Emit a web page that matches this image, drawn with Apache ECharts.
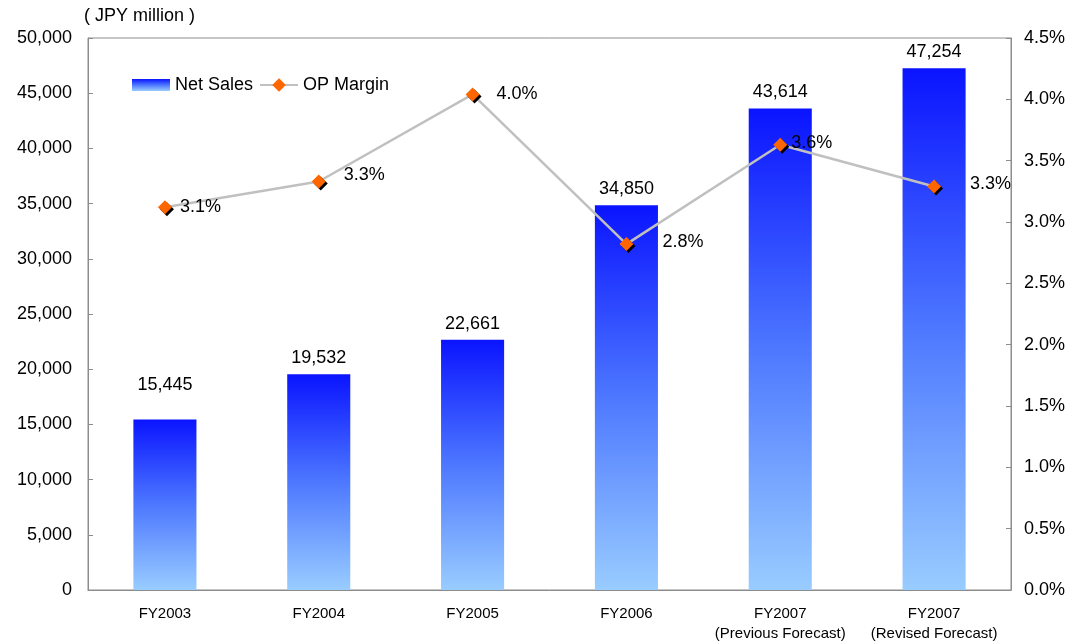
<!DOCTYPE html>
<html><head><meta charset="utf-8">
<script src="https://cdn.jsdelivr.net/npm/echarts@6/dist/echarts.min.js"></script>
<style>html,body{margin:0;padding:0;background:#fff}#c{width:1073px;height:644px}</style>
</head><body><div id="c"></div>
<script>
const categories = ['FY2003','FY2004','FY2005','FY2006','FY2007\n(Previous Forecast)','FY2007\n(Revised Forecast)'];
const netSales = [15445, 19532, 22661, 34850, 43614, 47254];
const opMargin = [3.12, 3.33, 4.04, 2.82, 3.63, 3.29];
const leftTicks = {min: 0, max: 50000, interval: 5000};
const rightTicks = {min: 0, max: 4.5, interval: 0.5};

const FONT = '"Liberation Sans", Arial, sans-serif';
const labelOffsets = [[0,0],[10,-6],[9,0],[21,-2],[-4,-2],[21,-2]];
const chart = echarts.init(document.getElementById('c'));
const barGrad = new echarts.graphic.LinearGradient(0,0,0,1,[
  {offset:0,color:'#0a14ff'},{offset:0.5,color:'#4d78ff'},{offset:1,color:'#99ccff'}]);
chart.setOption({
  animation:false,
  textStyle:{fontFamily:FONT},
  grid:{left:88,right:62,top:38,bottom:53,show:true,borderColor:'#8c8c8c',borderWidth:1,backgroundColor:'transparent'},
  graphic:[{type:'text',left:84,top:7,style:{text:'( JPY million )',fontSize:18,fontFamily:FONT,fill:'#000'}}],
  legend:{left:127,top:71,itemGap:6,itemWidth:38,itemHeight:17,
    textStyle:{fontSize:18,color:'#000',fontFamily:FONT},
    data:[{name:'Net Sales',icon:'path://M0,0h38v12h-38z'},{name:'OP Margin'}]},
  xAxis:{type:'category',data:categories,
    axisLine:{lineStyle:{color:'#8c8c8c',width:1}},
    axisTick:{inside:true,length:5,lineStyle:{color:'#8c8c8c'}},
    axisLabel:{interval:0,color:'#000',fontSize:15,lineHeight:20,margin:14,fontFamily:FONT}},
  yAxis:[
    {type:'value',min:leftTicks.min,max:leftTicks.max,interval:leftTicks.interval,
      axisLine:{show:true,lineStyle:{color:'#8c8c8c'}},
      axisTick:{show:true,inside:true,length:5,lineStyle:{color:'#8c8c8c'}},
      splitLine:{show:false},
      axisLabel:{color:'#000',fontSize:18,margin:16,fontFamily:FONT,
        formatter:v=>v.toLocaleString('en-US')}},
    {type:'value',min:rightTicks.min,max:rightTicks.max,interval:rightTicks.interval,
      axisLine:{show:true,lineStyle:{color:'#8c8c8c'}},
      axisTick:{show:true,inside:true,length:5,lineStyle:{color:'#8c8c8c'}},
      splitLine:{show:false},
      axisLabel:{color:'#000',fontSize:18,margin:13,fontFamily:FONT,
        formatter:v=>v.toFixed(1)+'%'}}
  ],
  series:[
    {name:'Net Sales',type:'bar',barWidth:'41%',yAxisIndex:0,
      itemStyle:{color:barGrad},
      data:netSales.map((v,i)=>i===0?{value:v,label:{distance:25}}:v),
      label:{show:true,position:'top',distance:7,color:'#000',fontSize:18,fontFamily:FONT,
        formatter:p=>p.value.toLocaleString('en-US')}},
    {name:'OP Margin',type:'line',yAxisIndex:1,
      data:opMargin.map((v,i)=>({value:v,label:{offset:labelOffsets[i]}})),
      symbol:'diamond',symbolSize:14,
      lineStyle:{color:'#c0c0c0',width:2.5},
      itemStyle:{color:'#ff6600',shadowColor:'#000',shadowOffsetX:2,shadowOffsetY:2,shadowBlur:0},
      label:{show:true,position:'right',distance:8,color:'#000',fontSize:18,fontFamily:FONT,
        formatter:p=>p.value.toFixed(1)+'%'}}
  ]
});
</script></body></html>
